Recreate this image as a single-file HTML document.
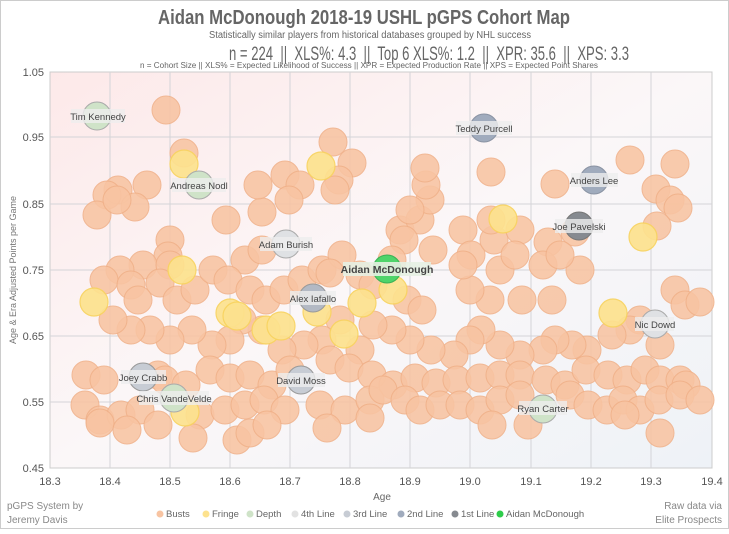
<!DOCTYPE html>
<html><head><meta charset="utf-8"><style>
body{margin:0;background:#fff;}
svg text{font-family:"Liberation Sans Narrow","Liberation Sans",sans-serif;}
.b circle{fill:#f8c4a2;stroke:#f0b088;stroke-width:1;opacity:.88}
.f circle{fill:#fde28e;stroke:#f8d35e;stroke-width:1.2;opacity:.92}
.lab{font-size:9.5px;fill:#444}
</style></head><body>
<svg width="729" height="529" viewBox="0 0 729 529">
<defs>
<linearGradient id="bg" x1="0" y1="0" x2="1" y2="1">
<stop offset="0" stop-color="#fde9e9"/><stop offset="0.5" stop-color="#fbf7f8"/><stop offset="1" stop-color="#eef2f7"/>
</linearGradient>
</defs>
<rect x="0.5" y="0.5" width="728" height="528" fill="#fff" stroke="#ccc"/>
<text x="158" y="24" textLength="412" lengthAdjust="spacingAndGlyphs" font-size="20" font-weight="bold" fill="#666">Aidan McDonough 2018-19 USHL pGPS Cohort Map</text>
<text x="209" y="38" textLength="322" lengthAdjust="spacingAndGlyphs" font-size="10" fill="#666">Statistically similar players from historical databases grouped by NHL success</text>
<text x="229" y="60" textLength="400" lengthAdjust="spacingAndGlyphs" font-size="19" fill="#666" style="white-space:pre" xml:space="preserve">n = 224  ||  XLS%: 4.3  ||  Top 6 XLS%: 1.2  ||  XPR: 35.6  ||  XPS: 3.3</text>
<text x="140" y="68" textLength="458" lengthAdjust="spacingAndGlyphs" font-size="8" fill="#666">n = Cohort Size || XLS% = Expected Likelihood of Success || XPR = Expected Production Rate || XPS = Expected Point Shares</text>
<rect x="50" y="72" width="662" height="396" fill="url(#bg)" stroke="#ccc"/>
<g stroke="#d4d4d8" stroke-width="1">
<line x1="110" y1="72" x2="110" y2="468"/><line x1="170" y1="72" x2="170" y2="468"/><line x1="230" y1="72" x2="230" y2="468"/><line x1="290" y1="72" x2="290" y2="468"/><line x1="350" y1="72" x2="350" y2="468"/><line x1="410" y1="72" x2="410" y2="468"/><line x1="470" y1="72" x2="470" y2="468"/><line x1="531" y1="72" x2="531" y2="468"/><line x1="591" y1="72" x2="591" y2="468"/><line x1="651" y1="72" x2="651" y2="468"/>
<line x1="50" y1="137" x2="712" y2="137"/><line x1="50" y1="204" x2="712" y2="204"/><line x1="50" y1="270" x2="712" y2="270"/><line x1="50" y1="336" x2="712" y2="336"/><line x1="50" y1="402" x2="712" y2="402"/>
</g>
<g font-size="11" fill="#555" text-anchor="end">
<text x="44" y="76">1.05</text><text x="44" y="141">0.95</text><text x="44" y="208">0.85</text><text x="44" y="274">0.75</text><text x="44" y="340">0.65</text><text x="44" y="406">0.55</text><text x="44" y="472">0.45</text>
</g>
<g font-size="11" fill="#555" text-anchor="middle">
<text x="50" y="485">18.3</text><text x="110" y="485">18.4</text><text x="170" y="485">18.5</text><text x="230" y="485">18.6</text><text x="290" y="485">18.7</text><text x="350" y="485">18.8</text><text x="410" y="485">18.9</text><text x="470" y="485">19.0</text><text x="531" y="485">19.1</text><text x="591" y="485">19.2</text><text x="651" y="485">19.3</text><text x="712" y="485">19.4</text>
</g>
<text x="382" y="500" text-anchor="middle" font-size="10" fill="#666">Age</text>
<text transform="translate(16,270) rotate(-90)" text-anchor="middle" font-size="9" fill="#777">Age &amp; Era Adjusted Points per Game</text>
<g class="b">
<circle cx="166" cy="110" r="14"/><circle cx="184" cy="153" r="14"/><circle cx="333" cy="142" r="14"/><circle cx="352" cy="163" r="14"/><circle cx="339" cy="180" r="14"/><circle cx="335" cy="190" r="14"/><circle cx="285" cy="175" r="14"/><circle cx="300" cy="185" r="14"/><circle cx="289" cy="200" r="14"/><circle cx="262" cy="212" r="14"/><circle cx="226" cy="220" r="14"/><circle cx="258" cy="185" r="14"/><circle cx="147" cy="185" r="14"/><circle cx="118" cy="190" r="14"/><circle cx="107" cy="195" r="14"/><circle cx="135" cy="207" r="14"/><circle cx="97" cy="215" r="14"/><circle cx="117" cy="200" r="14"/><circle cx="170" cy="240" r="14"/><circle cx="168" cy="256" r="14"/><circle cx="143" cy="265" r="14"/><circle cx="170" cy="265" r="14"/><circle cx="120" cy="270" r="14"/><circle cx="104" cy="280" r="14"/><circle cx="131" cy="285" r="14"/><circle cx="160" cy="283" r="14"/><circle cx="177" cy="300" r="14"/><circle cx="195" cy="290" r="14"/><circle cx="213" cy="270" r="14"/><circle cx="245" cy="260" r="14"/><circle cx="262" cy="250" r="14"/><circle cx="228" cy="280" r="14"/><circle cx="250" cy="290" r="14"/><circle cx="266" cy="300" r="14"/><circle cx="284" cy="290" r="14"/><circle cx="302" cy="280" r="14"/><circle cx="322" cy="270" r="14"/><circle cx="342" cy="255" r="14"/><circle cx="330" cy="273" r="14"/><circle cx="360" cy="275" r="14"/><circle cx="400" cy="230" r="14"/><circle cx="420" cy="220" r="14"/><circle cx="430" cy="200" r="14"/><circle cx="426" cy="185" r="14"/><circle cx="425" cy="168" r="14"/><circle cx="410" cy="210" r="14"/><circle cx="404" cy="240" r="14"/><circle cx="392" cy="260" r="14"/><circle cx="373" cy="285" r="14"/><circle cx="407" cy="300" r="14"/><circle cx="422" cy="310" r="14"/><circle cx="433" cy="250" r="14"/><circle cx="463" cy="230" r="14"/><circle cx="471" cy="255" r="14"/><circle cx="494" cy="240" r="14"/><circle cx="491" cy="220" r="14"/><circle cx="491" cy="172" r="14"/><circle cx="555" cy="184" r="14"/><circle cx="520" cy="230" r="14"/><circle cx="548" cy="242" r="14"/><circle cx="575" cy="232" r="14"/><circle cx="580" cy="270" r="14"/><circle cx="552" cy="300" r="14"/><circle cx="522" cy="300" r="14"/><circle cx="490" cy="300" r="14"/><circle cx="470" cy="290" r="14"/><circle cx="463" cy="265" r="14"/><circle cx="500" cy="270" r="14"/><circle cx="515" cy="255" r="14"/><circle cx="543" cy="265" r="14"/><circle cx="560" cy="255" r="14"/><circle cx="630" cy="160" r="14"/><circle cx="675" cy="164" r="14"/><circle cx="656" cy="189" r="14"/><circle cx="670" cy="200" r="14"/><circle cx="678" cy="208" r="14"/><circle cx="657" cy="226" r="14"/><circle cx="675" cy="290" r="14"/><circle cx="685" cy="305" r="14"/><circle cx="700" cy="302" r="14"/><circle cx="640" cy="320" r="14"/><circle cx="660" cy="345" r="14"/><circle cx="630" cy="330" r="14"/><circle cx="612" cy="335" r="14"/><circle cx="587" cy="350" r="14"/><circle cx="572" cy="345" r="14"/><circle cx="555" cy="340" r="14"/><circle cx="543" cy="350" r="14"/><circle cx="520" cy="355" r="14"/><circle cx="500" cy="345" r="14"/><circle cx="481" cy="330" r="14"/><circle cx="470" cy="340" r="14"/><circle cx="454" cy="355" r="14"/><circle cx="431" cy="350" r="14"/><circle cx="410" cy="340" r="14"/><circle cx="392" cy="330" r="14"/><circle cx="373" cy="325" r="14"/><circle cx="360" cy="350" r="14"/><circle cx="340" cy="320" r="14"/><circle cx="322" cy="340" r="14"/><circle cx="304" cy="345" r="14"/><circle cx="282" cy="350" r="14"/><circle cx="262" cy="330" r="14"/><circle cx="242" cy="320" r="14"/><circle cx="230" cy="340" r="14"/><circle cx="212" cy="345" r="14"/><circle cx="192" cy="330" r="14"/><circle cx="170" cy="340" r="14"/><circle cx="150" cy="330" r="14"/><circle cx="131" cy="330" r="14"/><circle cx="113" cy="320" r="14"/><circle cx="138" cy="300" r="14"/><circle cx="86" cy="375" r="14"/><circle cx="104" cy="380" r="14"/><circle cx="158" cy="375" r="14"/><circle cx="165" cy="380" r="14"/><circle cx="186" cy="385" r="14"/><circle cx="210" cy="370" r="14"/><circle cx="230" cy="378" r="14"/><circle cx="250" cy="375" r="14"/><circle cx="272" cy="385" r="14"/><circle cx="290" cy="370" r="14"/><circle cx="330" cy="360" r="14"/><circle cx="349" cy="368" r="14"/><circle cx="372" cy="375" r="14"/><circle cx="393" cy="385" r="14"/><circle cx="415" cy="378" r="14"/><circle cx="436" cy="383" r="14"/><circle cx="457" cy="380" r="14"/><circle cx="480" cy="378" r="14"/><circle cx="500" cy="375" r="14"/><circle cx="520" cy="375" r="14"/><circle cx="546" cy="380" r="14"/><circle cx="565" cy="385" r="14"/><circle cx="586" cy="370" r="14"/><circle cx="608" cy="375" r="14"/><circle cx="627" cy="380" r="14"/><circle cx="645" cy="370" r="14"/><circle cx="660" cy="380" r="14"/><circle cx="680" cy="380" r="14"/><circle cx="686" cy="385" r="14"/><circle cx="85" cy="405" r="14"/><circle cx="100" cy="420" r="14"/><circle cx="121" cy="415" r="14"/><circle cx="140" cy="410" r="14"/><circle cx="200" cy="415" r="14"/><circle cx="225" cy="410" r="14"/><circle cx="245" cy="405" r="14"/><circle cx="264" cy="400" r="14"/><circle cx="285" cy="410" r="14"/><circle cx="320" cy="405" r="14"/><circle cx="345" cy="410" r="14"/><circle cx="370" cy="400" r="14"/><circle cx="383" cy="390" r="14"/><circle cx="405" cy="400" r="14"/><circle cx="420" cy="410" r="14"/><circle cx="440" cy="405" r="14"/><circle cx="460" cy="405" r="14"/><circle cx="480" cy="410" r="14"/><circle cx="500" cy="400" r="14"/><circle cx="520" cy="395" r="14"/><circle cx="570" cy="395" r="14"/><circle cx="588" cy="405" r="14"/><circle cx="607" cy="410" r="14"/><circle cx="623" cy="400" r="14"/><circle cx="640" cy="410" r="14"/><circle cx="659" cy="400" r="14"/><circle cx="680" cy="395" r="14"/><circle cx="700" cy="400" r="14"/><circle cx="100" cy="423" r="14"/><circle cx="127" cy="430" r="14"/><circle cx="158" cy="425" r="14"/><circle cx="193" cy="438" r="14"/><circle cx="237" cy="440" r="14"/><circle cx="250" cy="433" r="14"/><circle cx="267" cy="425" r="14"/><circle cx="327" cy="428" r="14"/><circle cx="370" cy="418" r="14"/><circle cx="492" cy="425" r="14"/><circle cx="528" cy="425" r="14"/><circle cx="660" cy="433" r="14"/><circle cx="625" cy="415" r="14"/>
</g>
<g class="f">
<circle cx="94" cy="302" r="14"/><circle cx="184" cy="164" r="14"/><circle cx="321" cy="166" r="14"/><circle cx="182" cy="270" r="14"/><circle cx="230" cy="313" r="14"/><circle cx="237" cy="316" r="14"/><circle cx="266" cy="330" r="14"/><circle cx="281" cy="326" r="14"/><circle cx="344" cy="334" r="14"/><circle cx="362" cy="303" r="14"/><circle cx="393" cy="290" r="14"/><circle cx="317" cy="312" r="14"/><circle cx="185" cy="412" r="14"/><circle cx="503" cy="219" r="14"/><circle cx="643" cy="237" r="14"/><circle cx="613" cy="313" r="14"/>
</g>
<g stroke-width="1">
<circle cx="97" cy="116" r="14" fill="#cfe3c8" stroke="#aaa"/>
<circle cx="199" cy="185" r="14" fill="#cfe3c8" stroke="#aaa"/>
<circle cx="174" cy="398" r="14" fill="#cfe3c8" stroke="#aaa"/>
<circle cx="543" cy="409" r="14" fill="#cfe3c8" stroke="#aaa"/>
<circle cx="286" cy="244" r="14" fill="#dfe1e4" stroke="#aaa"/>
<circle cx="655" cy="324" r="14" fill="#dfe1e4" stroke="#aaa"/>
<circle cx="143" cy="377" r="14" fill="#c7ccd4" stroke="#999"/>
<circle cx="301" cy="380" r="14" fill="#c7ccd4" stroke="#999"/>
<circle cx="313" cy="298" r="14" fill="#b3b9c4" stroke="#999"/>
<circle cx="484" cy="128" r="14" fill="#a0abbd" stroke="#8a93a3"/>
<circle cx="594" cy="180" r="14" fill="#a0abbd" stroke="#8a93a3"/>
<circle cx="579" cy="226" r="14" fill="#868a90" stroke="#777"/>
<circle cx="387" cy="269" r="14" fill="#4fd46a" stroke="#3bb055"/>
</g>
<g class="lab" text-anchor="middle">
<rect x="71" y="109" width="54" height="14" fill="#eee" opacity=".8"/><text x="98" y="120">Tim Kennedy</text>
<rect x="172" y="178" width="54" height="14" fill="#eee" opacity=".8"/><text x="199" y="189">Andreas Nodl</text>
<rect x="260" y="237" width="52" height="14" fill="#eee" opacity=".8"/><text x="286" y="248">Adam Burish</text>
<rect x="290" y="291" width="46" height="14" fill="#eee" opacity=".8"/><text x="313" y="302">Alex Iafallo</text>
<rect x="121" y="370" width="45" height="14" fill="#eee" opacity=".8"/><text x="143" y="381">Joey Crabb</text>
<rect x="139" y="391" width="70" height="14" fill="#eee" opacity=".8"/><text x="174" y="402">Chris VandeVelde</text>
<rect x="278" y="373" width="47" height="14" fill="#eee" opacity=".8"/><text x="301" y="384">David Moss</text>
<rect x="456" y="121" width="56" height="14" fill="#eee" opacity=".8"/><text x="484" y="132">Teddy Purcell</text>
<rect x="571" y="173" width="47" height="14" fill="#eee" opacity=".8"/><text x="594" y="184">Anders Lee</text>
<rect x="555" y="219" width="48" height="14" fill="#eee" opacity=".8"/><text x="579" y="230">Joe Pavelski</text>
<rect x="519" y="401" width="48" height="14" fill="#eee" opacity=".8"/><text x="543" y="412">Ryan Carter</text>
<rect x="635" y="317" width="39" height="14" fill="#eee" opacity=".8"/><text x="655" y="328">Nic Dowd</text>
<rect x="343" y="262" width="88" height="14" fill="#e6f0e2" opacity=".9"/><text x="387" y="273" font-weight="bold" font-size="10.5" fill="#444">Aidan McDonough</text>
</g>
<g font-size="10" fill="#888">
<text x="7" y="509">pGPS System by</text><text x="7" y="523">Jeremy Davis</text>
<text x="722" y="509" text-anchor="end">Raw data via</text><text x="722" y="523" text-anchor="end">Elite Prospects</text>
</g>
<g font-size="9.5" fill="#666">
<circle cx="160" cy="514" r="3.5" fill="#f8c4a2"/><text x="166" y="517">Busts</text>
<circle cx="206" cy="514" r="3.5" fill="#fde28e"/><text x="212" y="517">Fringe</text>
<circle cx="250" cy="514" r="3.5" fill="#cfe3c8"/><text x="256" y="517">Depth</text>
<circle cx="295" cy="514" r="3.5" fill="#e2e2e2"/><text x="301" y="517">4th Line</text>
<circle cx="347" cy="514" r="3.5" fill="#c7ccd4"/><text x="353" y="517">3rd Line</text>
<circle cx="401" cy="514" r="3.5" fill="#a0abbd"/><text x="407" y="517">2nd Line</text>
<circle cx="455" cy="514" r="3.5" fill="#868a90"/><text x="461" y="517">1st Line</text>
<circle cx="500" cy="514" r="3.5" fill="#2ecc4a"/><text x="506" y="517">Aidan McDonough</text>
</g>
</svg>
</body></html>
